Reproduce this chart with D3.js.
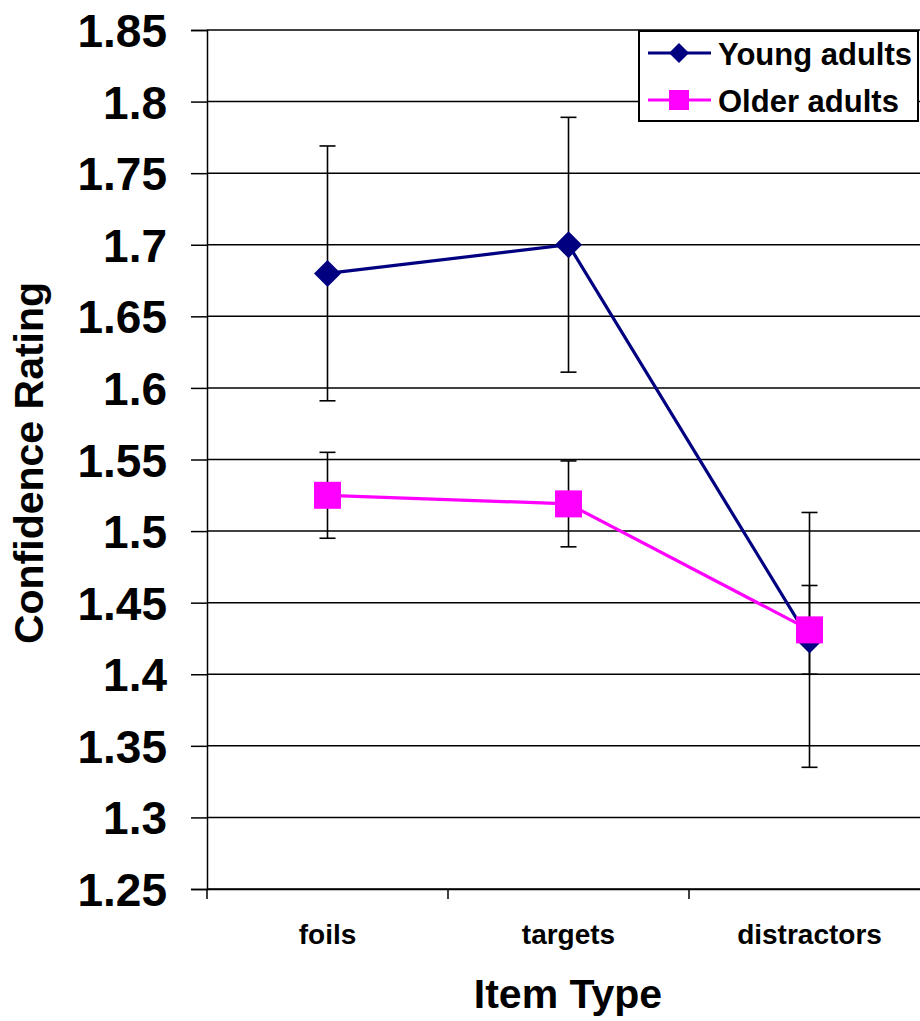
<!DOCTYPE html>
<html>
<head>
<meta charset="utf-8">
<script src="https://cdn.jsdelivr.net/npm/d3@7"></script>
<style>
  html, body { margin: 0; padding: 0; background: #fff; }
  svg { display: block; font-family: "Liberation Sans", Arial, sans-serif; font-weight: bold; }
</style>
</head>
<body>
<svg id="chart" width="920" height="1021"></svg>
<script>
// Item types on the x axis
const categories = ["foils", "targets", "distractors"];

// Mean confidence ratings and error-bar half widths
const youngMeans = [1.68, 1.70, 1.424];
const youngErr   = [0.089, 0.089, 0.089];
const olderMeans = [1.525, 1.519, 1.431];
const olderErr   = [0.030, 0.030, 0.031];

const seriesNames = ["Young adults", "Older adults"];
const yTicks = [1.25, 1.3, 1.35, 1.4, 1.45, 1.5, 1.55, 1.6, 1.65, 1.7, 1.75, 1.8, 1.85];

const svg = d3.select("#chart");
const plotLeft = 207, plotRight = 930, plotTop = 30, plotBottom = 889;

const x = d3.scaleBand().domain(categories).range([plotLeft, plotRight]).padding(0);
const y = d3.scaleLinear().domain([1.25, 1.85]).range([plotBottom, plotTop]);
const cx = d => x(d) + x.bandwidth() / 2;

// horizontal gridlines
svg.append("g")
  .selectAll("line")
  .data(yTicks)
  .join("line")
  .attr("x1", plotLeft).attr("x2", plotRight)
  .attr("y1", d => y(d)).attr("y2", d => y(d))
  .attr("stroke", "#000").attr("stroke-width", 1.5);

// y axis
const yAxis = svg.append("g")
  .attr("transform", `translate(${plotLeft},0)`)
  .call(d3.axisLeft(y).tickValues(yTicks).tickSize(16).tickPadding(24)
    .tickFormat(d => String(+d.toFixed(2))));
yAxis.select(".domain").attr("stroke", "#000").attr("stroke-width", 1.5);
yAxis.selectAll(".tick line").attr("stroke", "#000").attr("stroke-width", 1.5);
yAxis.selectAll(".tick text")
  .attr("font-size", 46).attr("font-weight", "bold")
  .attr("font-family", "Liberation Sans, Arial, sans-serif")
  .attr("fill", "#000").attr("dy", "0.36em");

// x axis: labels at category centres, ticks at category boundaries
const xAxis = svg.append("g")
  .attr("transform", `translate(0,${plotBottom})`)
  .call(d3.axisBottom(x).tickSize(0).tickPadding(35));
xAxis.select(".domain").attr("stroke", "#000").attr("stroke-width", 1.5);
xAxis.selectAll(".tick text")
  .attr("font-size", 28).attr("font-weight", "bold")
  .attr("font-family", "Liberation Sans, Arial, sans-serif")
  .attr("fill", "#000");
const bounds = categories.map(c => x(c)).concat([x(categories[categories.length - 1]) + x.bandwidth()]);
svg.append("g")
  .selectAll("line")
  .data(bounds)
  .join("line")
  .attr("x1", d => d).attr("x2", d => d)
  .attr("y1", plotBottom).attr("y2", plotBottom + 10)
  .attr("stroke", "#000").attr("stroke-width", 1.5);

// axis titles
svg.append("text")
  .attr("x", 568).attr("y", 1008)
  .attr("text-anchor", "middle")
  .attr("font-size", 41)
  .text("Item Type");
svg.append("text")
  .attr("transform", "translate(43,463) rotate(-90)")
  .attr("text-anchor", "middle")
  .attr("font-size", 41)
  .text("Confidence Rating");

const series = [
  { name: seriesNames[0], means: youngMeans, err: youngErr, color: "#000080", shape: "diamond" },
  { name: seriesNames[1], means: olderMeans, err: olderErr, color: "#FF00FF", shape: "square" }
];

// error bars
series.forEach(s => {
  const g = svg.append("g").attr("stroke", "#000").attr("stroke-width", 1.6);
  categories.forEach((c, i) => {
    const lo = y(s.means[i] - s.err[i]), hi = y(s.means[i] + s.err[i]), px = cx(c);
    g.append("line").attr("x1", px).attr("x2", px).attr("y1", lo).attr("y2", hi);
    g.append("line").attr("x1", px - 8).attr("x2", px + 8).attr("y1", lo).attr("y2", lo);
    g.append("line").attr("x1", px - 8).attr("x2", px + 8).attr("y1", hi).attr("y2", hi);
  });
});

// series lines
const line = d3.line().x((d, i) => cx(categories[i])).y(d => y(d));
series.forEach(s => {
  svg.append("path")
    .datum(s.means)
    .attr("d", line)
    .attr("fill", "none")
    .attr("stroke", s.color)
    .attr("stroke-width", 3.2);
});

function marker(g, shape, px, py, size, color) {
  const h = size / 2;
  if (shape === "diamond") {
    g.append("path")
      .attr("d", `M${px},${py - h}L${px + h},${py}L${px},${py + h}L${px - h},${py}Z`)
      .attr("fill", color);
  } else {
    g.append("rect")
      .attr("x", px - h).attr("y", py - h)
      .attr("width", size).attr("height", size)
      .attr("fill", color);
  }
}

// markers
series.forEach(s => {
  const g = svg.append("g");
  s.means.forEach((m, i) => marker(g, s.shape, cx(categories[i]), y(m), 27, s.color));
});

// legend
const legend = svg.append("g");
legend.append("rect")
  .attr("x", 639).attr("y", 31).attr("width", 279).attr("height", 90)
  .attr("fill", "#fff").attr("stroke", "#000").attr("stroke-width", 2);
series.forEach((s, i) => {
  const ly = 53 + i * 47;
  legend.append("line")
    .attr("x1", 648).attr("x2", 711).attr("y1", ly).attr("y2", ly)
    .attr("stroke", s.color).attr("stroke-width", 3.2);
  marker(legend, s.shape, 679, ly, 20, s.color);
  legend.append("text")
    .attr("x", 718).attr("y", ly + 12)
    .attr("font-size", 31)
    .text(s.name);
});
</script>
</body>
</html>
